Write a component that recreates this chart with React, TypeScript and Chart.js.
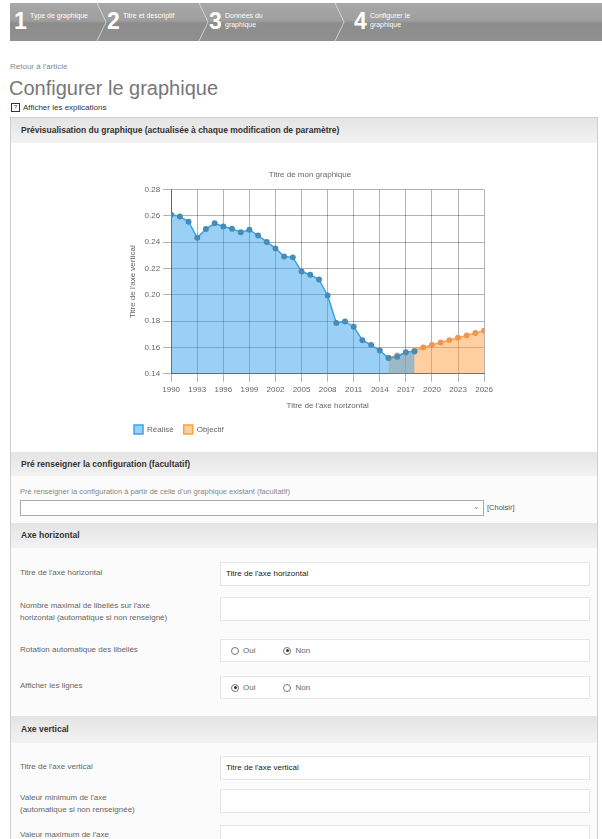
import React, { useEffect, useRef } from "react";
import { Chart, registerables } from "chart.js";

Chart.register(...registerables);

const realiseYears = [1990, 1991, 1992, 1993, 1994, 1995, 1996, 1997, 1998, 1999, 2000, 2001, 2002, 2003, 2004, 2005, 2006, 2007, 2008, 2009, 2010, 2011, 2012, 2013, 2014, 2015, 2016, 2017, 2018];
const realiseValues = [0.261, 0.2595, 0.2556, 0.2434, 0.25, 0.2544, 0.252, 0.2503, 0.2476, 0.2495, 0.2451, 0.2402, 0.2353, 0.2292, 0.2285, 0.2177, 0.2153, 0.2117, 0.1995, 0.1787, 0.1798, 0.1758, 0.1655, 0.162, 0.1577, 0.152, 0.153, 0.1565, 0.157];
const objectifYears = [2015, 2016, 2017, 2018, 2019, 2020, 2021, 2022, 2023, 2024, 2025, 2026];
const objectifValues = [0.152, 0.154, 0.156, 0.1578, 0.16, 0.162, 0.1638, 0.1656, 0.1674, 0.1692, 0.171, 0.1728];
const seriesNames = ["Réalisé", "Objectif"];
const chartTitle = "Titre de mon graphique";
const xTitle = "Titre de l'axe horizontal";
const yTitle = "Titre de l'axe vertical";

const FONT = "'Liberation Sans', Arial, sans-serif";

function PreviewChart() {
  const ref = useRef<HTMLCanvasElement | null>(null);
  useEffect(() => {
    if (!ref.current) return;
    const chart = new Chart(ref.current, {
      type: "line",
      data: {
        datasets: [
          {
            label: seriesNames[0],
            data: realiseYears.map((y, i) => ({ x: y, y: realiseValues[i] })),
            borderColor: "rgb(54,162,235)",
            backgroundColor: "rgba(54,162,235,0.5)",
            pointBackgroundColor: "rgb(70,140,185)",
            pointBorderColor: "rgb(70,140,185)",
            pointRadius: 2.2,
            borderWidth: 1.5,
            fill: "start",
            tension: 0,
          },
          {
            label: seriesNames[1],
            data: objectifYears.map((y, i) => ({ x: y, y: objectifValues[i] })),
            borderColor: "rgb(255,159,64)",
            backgroundColor: "rgba(255,159,64,0.5)",
            pointBackgroundColor: "rgb(240,150,80)",
            pointBorderColor: "rgb(240,150,80)",
            pointRadius: 2.2,
            borderWidth: 1.5,
            fill: "start",
            tension: 0,
          },
        ],
      },
      options: {
        animation: false,
        responsive: false,
        font: { family: FONT, size: 8 },
        plugins: {
          title: {
            display: true,
            text: chartTitle,
            color: "#666",
            font: { family: FONT, size: 8, weight: "normal" },
            padding: { top: 10, bottom: 10 },
          },
          legend: {
            position: "bottom",
            align: "start",
            labels: {
              boxWidth: 9,
              boxHeight: 9,
              color: "#666",
              font: { family: FONT, size: 8 },
            },
          },
          tooltip: { enabled: false },
        },
        scales: {
          x: {
            type: "linear",
            min: 1990,
            max: 2026,
            ticks: {
              stepSize: 3,
              color: "#666",
              font: { family: FONT, size: 8 },
              callback: (v: any) => String(v),
              maxRotation: 0,
            },
            grid: { color: "rgba(0,0,0,0.3)" },
            border: { color: "rgba(0,0,0,0.45)" },
            title: {
              display: true,
              text: xTitle,
              color: "#666",
              font: { family: FONT, size: 8 },
            },
          },
          y: {
            min: 0.14,
            max: 0.28,
            ticks: {
              stepSize: 0.02,
              color: "#666",
              font: { family: FONT, size: 8 },
              callback: (v: any) => Number(v).toFixed(2),
            },
            grid: { color: "rgba(0,0,0,0.3)" },
            border: { color: "rgba(0,0,0,0.45)" },
            title: {
              display: true,
              text: yTitle,
              color: "#666",
              font: { family: FONT, size: 8 },
            },
          },
        },
      },
    });
    return () => chart.destroy();
  }, []);
  return <canvas ref={ref} width={372} height={284} style={{ position: "absolute", left: 124, top: 160 }} />;
}

const abs = (left: number, top: number, extra: React.CSSProperties = {}): React.CSSProperties => ({
  position: "absolute",
  left,
  top,
  ...extra,
});

function SectionHeader({ top, height, text }: { top: number; height: number; text: string }) {
  return (
    <div
      style={abs(11, top, {
        width: 586,
        height,
        background: "linear-gradient(#e4e4e4, #f2f2f2)",
        fontWeight: "bold",
        fontSize: 8.5,
        color: "#333",
        lineHeight: height + "px",
        paddingLeft: 10,
        boxSizing: "border-box",
      })}
    >
      {text}
    </div>
  );
}

function Label({ top, lines }: { top: number; lines: string[] }) {
  return (
    <div style={abs(20, top, { fontSize: 8, color: "#666", lineHeight: "12px" })}>
      {lines.map((l, i) => (
        <div key={i}>{l}</div>
      ))}
    </div>
  );
}

function InputBox({ top, height, value }: { top: number; height: number; value?: string }) {
  return (
    <div
      style={abs(220, top, {
        width: 370,
        height,
        background: "#fff",
        border: "1px solid #e6e6e6",
        boxSizing: "border-box",
        fontSize: 8,
        color: "#222",
        lineHeight: height - 2 + "px",
        paddingLeft: 5,
      })}
    >
      {value || ""}
    </div>
  );
}

function Radio({ checked }: { checked: boolean }) {
  return (
    <span
      style={{
        display: "inline-block",
        width: 8,
        height: 8,
        borderRadius: "50%",
        border: "1px solid #777",
        boxSizing: "border-box",
        position: "relative",
        verticalAlign: "middle",
        marginRight: 4,
        background: "#fff",
      }}
    >
      {checked && (
        <span
          style={{
            position: "absolute",
            left: 1.5,
            top: 1.5,
            width: 3,
            height: 3,
            borderRadius: "50%",
            background: "#333",
          }}
        />
      )}
    </span>
  );
}

function RadioBox({ top, yes }: { top: number; yes: boolean }) {
  return (
    <div
      style={abs(220, top, {
        width: 370,
        height: 23,
        background: "#fff",
        border: "1px solid #e6e6e6",
        boxSizing: "border-box",
        fontSize: 8,
        color: "#666",
        lineHeight: "21px",
        paddingLeft: 10,
      })}
    >
      <Radio checked={yes} />
      <span style={{ marginRight: 28 }}>Oui</span>
      <Radio checked={!yes} />
      <span>Non</span>
    </div>
  );
}

function NavBar() {
  const steps = [
    { n: "1", x: 14, lines: ["Type de graphique"] },
    { n: "2", x: 107, lines: ["Titre et descriptif"] },
    { n: "3", x: 209, lines: ["Données du", "graphique"] },
    { n: "4", x: 354, lines: ["Configurer le", "graphique"] },
  ];
  const seps = [96, 198, 334];
  const h = 38;
  return (
    <div
      style={abs(10, 3, {
        width: 592,
        height: h,
        background: "linear-gradient(#a8a8a8 0%, #9e9e9e 47%, #8c8c8c 53%, #909090 100%)",
        overflow: "hidden",
      })}
    >
      <svg width={592} height={h} style={{ position: "absolute", left: 0, top: 0 }}>
        {seps.map((s) => (
          <polyline
            key={s}
            points={`${s - 9},0 ${s},${h / 2} ${s - 9},${h}`}
            fill="none"
            stroke="rgba(255,255,255,0.55)"
            strokeWidth={1}
          />
        ))}
      </svg>
      {steps.map((s) => (
        <div key={s.n}>
          <div
            style={abs(s.x - 10, 6, {
              fontSize: 23,
              fontWeight: "bold",
              color: "#fff",
              lineHeight: "24px",
            })}
          >
            {s.n}
          </div>
          <div style={abs(s.x + 6, 8, { fontSize: 7, color: "#fff", lineHeight: "9px" })}>
            {s.lines.map((l, i) => (
              <div key={i}>{l}</div>
            ))}
          </div>
        </div>
      ))}
    </div>
  );
}

export default function App() {
  return (
    <div
      style={{
        position: "absolute",
        left: 0,
        top: 0,
        width: 602,
        height: 839,
        overflow: "hidden",
        background: "#fff",
        fontFamily: FONT,
      }}
    >
      <NavBar />
      <div style={abs(10, 62, { fontSize: 8, color: "#888" })}>Retour à l'article</div>
      <div style={abs(9, 76, { fontSize: 20, color: "#777", lineHeight: "24px" })}>Configurer le graphique</div>
      <div style={abs(11, 103, { fontSize: 8, color: "#333", lineHeight: "10px" })}>
        <span
          style={{
            display: "inline-block",
            width: 7,
            height: 7,
            border: "1px solid #333",
            fontSize: 6,
            lineHeight: "7px",
            textAlign: "center",
            marginRight: 3,
            verticalAlign: "middle",
          }}
        >
          ?
        </span>
        Afficher les explications
      </div>

      <div
        style={abs(10, 117, {
          width: 588,
          height: 730,
          border: "1px solid #cfcfcf",
          boxSizing: "border-box",
          background: "#fbfbfb",
        })}
      />
      <SectionHeader top={118} height={25} text="Prévisualisation du graphique (actualisée à chaque modification de paramètre)" />
      <div style={abs(11, 143, { width: 586, height: 308, background: "#fff" })} />
      <PreviewChart />

      <SectionHeader top={452} height={24} text="Pré renseigner la configuration (facultatif)" />
      <div style={abs(20, 487, { fontSize: 7.5, color: "#888" })}>
        Pré renseigner la configuration à partir de celle d'un graphique existant (facultatif)
      </div>
      <div
        style={abs(20, 500, {
          width: 464,
          height: 16,
          border: "1px solid #aaa",
          boxSizing: "border-box",
          background: "#fff",
        })}
      >
        <span style={abs(452, 1, { fontSize: 8, color: "#888" })}>⌄</span>
      </div>
      <div style={abs(487, 503, { fontSize: 7.5, color: "#555" })}>[Choisir]</div>

      <SectionHeader top={523} height={25} text="Axe horizontal" />
      <Label top={567} lines={["Titre de l'axe horizontal"]} />
      <InputBox top={562} height={24} value="Titre de l'axe horizontal" />
      <Label top={600} lines={["Nombre maximal de libellés sur l'axe", "horizontal (automatique si non renseigné)"]} />
      <InputBox top={597} height={24} />
      <Label top={644} lines={["Rotation automatique des libellés"]} />
      <RadioBox top={639} yes={false} />
      <Label top={680} lines={["Afficher les lignes"]} />
      <RadioBox top={676} yes={true} />

      <SectionHeader top={716} height={27} text="Axe vertical" />
      <Label top={761} lines={["Titre de l'axe vertical"]} />
      <InputBox top={756} height={24} value="Titre de l'axe vertical" />
      <Label top={792} lines={["Valeur minimum de l'axe", "(automatique si non renseignée)"]} />
      <InputBox top={789} height={24} />
      <Label top={829} lines={["Valeur maximum de l'axe"]} />
      <InputBox top={825} height={24} />
    </div>
  );
}
